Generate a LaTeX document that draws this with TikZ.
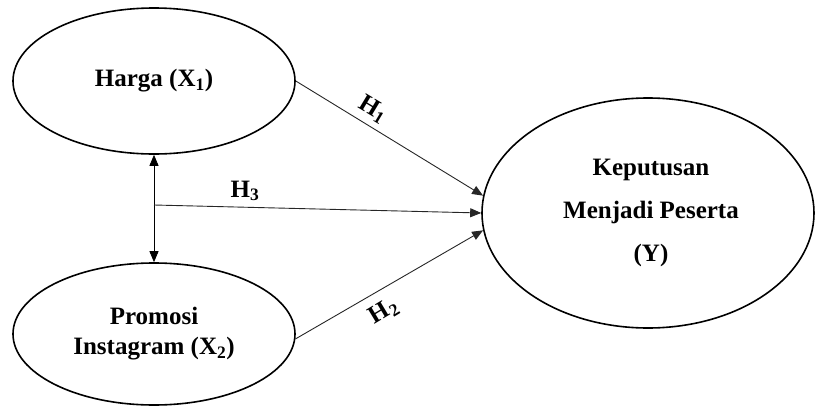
\documentclass[tikz,border=0pt]{standalone}
\usepackage{fontspec}
\setmainfont{Liberation Serif}
\usetikzlibrary{arrows.meta,calc,shapes.geometric}
\begin{document}
\begin{tikzpicture}[x=1pt,y=-1pt,
  var/.style={draw,ellipse,line width=1.6pt,inner sep=0pt,align=center,
    font=\fontsize{25}{30}\selectfont\bfseries},
  conn/.style={line width=0.9pt,draw=black!85,-{Triangle[length=11pt,width=9pt]}},
  hlab/.style={font=\fontsize{25}{30}\selectfont\bfseries,inner sep=0pt}]
\useasboundingbox (0,0) rectangle (815,407);
\node[var,minimum width=282pt,minimum height=146pt] (X1) at (154,81) {Harga (X\textsubscript{1})};
\node[var,minimum width=282pt,minimum height=142pt,font=\fontsize{25}{30}\selectfont\bfseries] (X2) at (154,334) {Promosi\\Instagram (X\textsubscript{2})};
\node[var,minimum width=332pt,minimum height=230pt,font=\fontsize{25}{43}\selectfont\bfseries] (Y) at (648,213) {\hspace*{6pt}Keputusan\\\hspace*{6pt}Menjadi Peserta\\\hspace*{6pt}(Y)};
\coordinate (m) at (154,205);
\draw[line width=0.9pt,{Triangle[length=11pt,width=9pt]}-{Triangle[length=11pt,width=9pt]}] (X1.south) -- (X2.north);
\draw[conn] (m) -- (Y.west);
\draw[conn] (X1.east) -- (Y.174);
\draw[conn] (X2.-2.5) -- (Y.186);
\node[hlab,rotate=-31] (h1) at (373,109) {H\textsubscript{1}};
\node[hlab,rotate=31] (h2) at (384,312) {H\textsubscript{2}};
\node[hlab] (h3) at (245,191) {H\textsubscript{3}};
\end{tikzpicture}
\end{document}
